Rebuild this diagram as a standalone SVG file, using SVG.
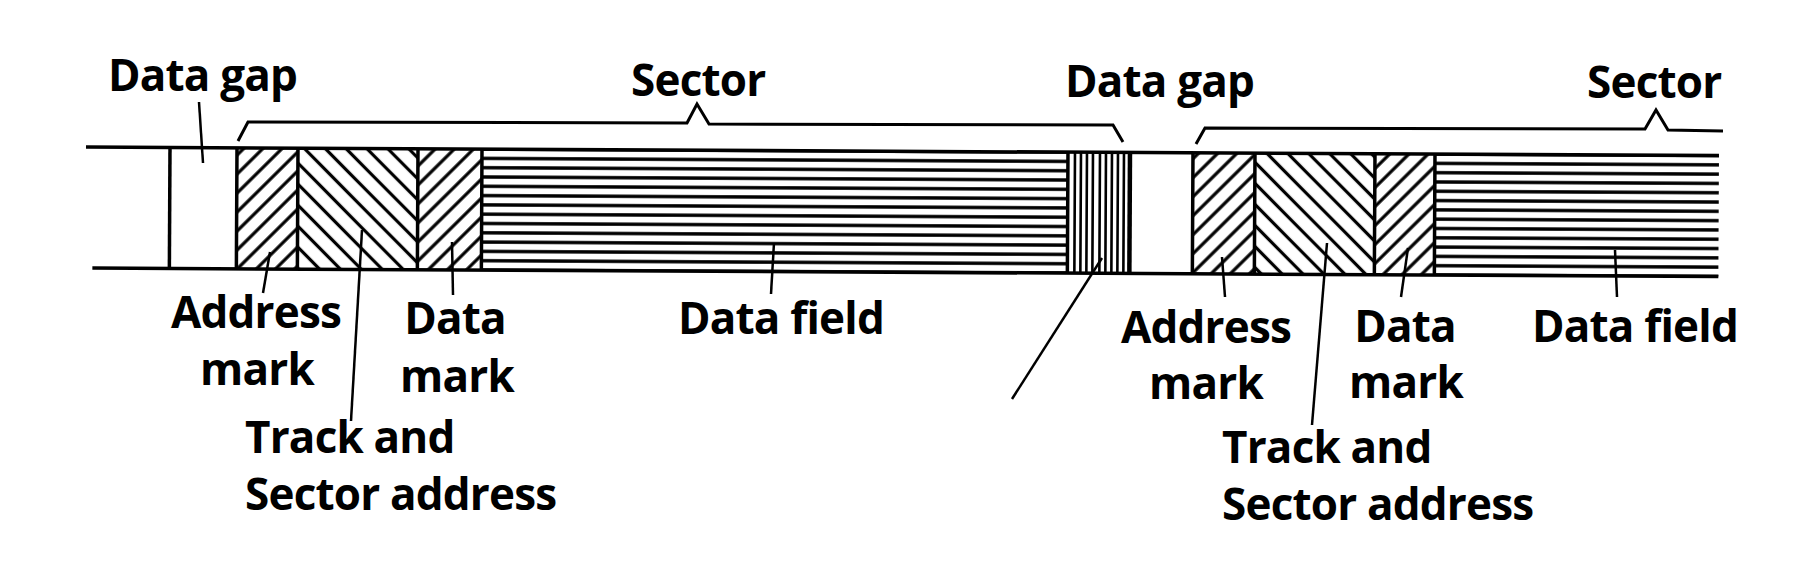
<svg xmlns="http://www.w3.org/2000/svg" width="1806" height="570" viewBox="0 0 1806 570">
<style>
.t{font-family:"Open Sans","Noto Sans","DejaVu Sans",sans-serif;font-weight:700;font-size:44px;letter-spacing:-0.8px;fill:#000}
.m{text-anchor:middle}
.b{stroke:#000;stroke-width:3.5;fill:none}
.h{stroke:#000;stroke-width:2.6}
.ld{stroke:#000;stroke-width:2.5;fill:none}
.br{stroke:#000;stroke-width:3;fill:none;stroke-linejoin:miter}
</style>
<defs>
<pattern id="fw" patternUnits="userSpaceOnUse" width="13.5" height="20" patternTransform="rotate(45)">
<line x1="6.75" y1="-2" x2="6.75" y2="22" stroke="#000" stroke-width="3.2"/>
</pattern>
<pattern id="bw" patternUnits="userSpaceOnUse" width="14.8" height="20" patternTransform="rotate(-45)">
<line x1="7.4" y1="-2" x2="7.4" y2="22" stroke="#000" stroke-width="3.2"/>
</pattern>
<pattern id="hz" patternUnits="userSpaceOnUse" width="20" height="9.3" patternTransform="translate(0 142.35)">
<line x1="-2" y1="4.65" x2="22" y2="4.65" stroke="#000" stroke-width="3.4"/>
</pattern>
</defs>
<rect width="1806" height="570" fill="#fff"/>

<g id="track" transform="rotate(0.3 86 147)">
  <g id="gap1"><path class="b" d="M170,147 V268"/></g>
  <g id="address-mark-1"><rect x="237" y="147" width="61" height="121" fill="url(#fw)"/></g>
  <g id="track-sector-address-1"><rect x="298" y="147" width="120" height="121" fill="url(#bw)"/></g>
  <g id="data-mark-1"><rect x="418" y="147" width="64" height="121" fill="url(#fw)"/></g>
  <g id="data-field-1"><rect x="482" y="147" width="586" height="121" fill="url(#hz)"/></g>
  <g id="gap-sync">
    <path class="h" d="M1075,147V268M1081,147V268M1087,147V268M1093,147V268M1100,147V268M1106,147V268M1112,147V268M1118,147V268M1124,147V268"/>
  </g>
  <g id="gap2"><rect x="1130" y="147" width="63" height="121" fill="#fff"/></g>
  <g id="address-mark-2"><rect x="1193" y="147" width="62" height="121" fill="url(#fw)"/></g>
  <g id="track-sector-address-2"><rect x="1255" y="147" width="120" height="121" fill="url(#bw)"/></g>
  <g id="data-mark-2"><rect x="1375" y="147" width="60" height="121" fill="url(#fw)"/></g>
  <g id="data-field-2"><rect x="1435" y="147" width="284" height="121" fill="url(#hz)"/></g>
  <g id="borders">
    <path class="b" d="M86,147 H1719 M93,268 H1719"/>
    <path class="b" d="M237,147V268 M298,147V268 M418,147V268 M482,147V268 M1068,147V268 M1193,147V268 M1255,147V268 M1375,147V268 M1435,147V268"/>
    <path stroke="#000" stroke-width="4.5" d="M1130,147V268"/>
  </g>
</g>

<g id="connectors">
  <path class="br" d="M238,141 L248,122 L687,123 L697,104 L709,124 L1113,125 L1123,142"/>
  <path class="br" d="M1196,144 L1205,128 L1645,129 L1656,110 L1668,130 L1723,131"/>
  <path class="ld" d="M199,102 L203,163"/>
  <path class="ld" d="M270,252 L263,293"/>
  <path class="ld" d="M362,230 L351,421"/>
  <path class="ld" d="M452,242 L453,295"/>
  <path class="ld" d="M774,243 L771,294"/>
  <path class="ld" d="M1102,258 L1012,399"/>
  <path class="ld" d="M1222,257 L1225,297"/>
  <path class="ld" d="M1327,243 L1312,425"/>
  <path class="ld" d="M1408,248 L1401,297"/>
  <path class="ld" d="M1615,250 L1617,297"/>
</g>

<g id="labels">
  <g id="lbl-data-gap-1"><text class="t" x="108" y="91">Data gap</text></g>
  <g id="lbl-sector-1"><text class="t" x="631" y="96">Sector</text></g>
  <g id="lbl-data-gap-2"><text class="t" x="1065" y="97">Data gap</text></g>
  <g id="lbl-sector-2"><text class="t" x="1587" y="98">Sector</text></g>
  <g id="lbl-address-mark-1"><text class="t m" x="256" y="328">Address</text><text class="t m" x="257" y="385">mark</text></g>
  <g id="lbl-data-mark-1"><text class="t m" x="455" y="334">Data</text><text class="t m" x="457" y="392">mark</text></g>
  <g id="lbl-data-field-1"><text class="t" x="678" y="334">Data field</text></g>
  <g id="lbl-track-sector-1"><text class="t" x="245" y="453">Track and</text><text class="t" x="245" y="510">Sector address</text></g>
  <g id="lbl-address-mark-2"><text class="t m" x="1206" y="343">Address</text><text class="t m" x="1206" y="399">mark</text></g>
  <g id="lbl-data-mark-2"><text class="t m" x="1405" y="342">Data</text><text class="t m" x="1406" y="398">mark</text></g>
  <g id="lbl-data-field-2"><text class="t" x="1532" y="342">Data field</text></g>
  <g id="lbl-track-sector-2"><text class="t" x="1222" y="463">Track and</text><text class="t" x="1222" y="520">Sector address</text></g>
</g>
</svg>
